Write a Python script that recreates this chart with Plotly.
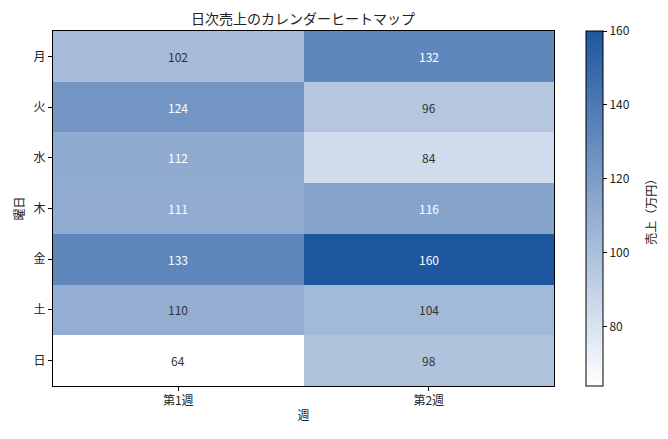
import plotly.graph_objects as go

weeks = ["第1週", "第2週"]
days = ["月", "火", "水", "木", "金", "土", "日"]
week1 = [102, 124, 112, 111, 133, 110, 64]
week2 = [132, 96, 84, 116, 160, 104, 98]

z = [[a, b] for a, b in zip(week1, week2)]
zmin, zmax = 64, 160
font = "Noto Sans CJK JP"

fig = go.Figure(go.Heatmap(
    z=z, x=weeks, y=days,
    zmin=zmin, zmax=zmax,
    colorscale=[[0, "#ffffff"], [1, "#1f56a0"]],
    xgap=0, ygap=0,
    hovertemplate="%{y} %{x}: %{z}<extra></extra>",
    colorbar=dict(
        thickness=17, len=1, lenmode="fraction", y=0.5, yanchor="middle",
        x=1.064, xanchor="left", xpad=0, ypad=0,
        outlinecolor="black", outlinewidth=1,
        ticks="outside", ticklen=4, tickcolor="black",
        tickvals=[80, 100, 120, 140, 160],
        tickfont=dict(size=12, color="#222222"),
    ),
))

# cell labels: light text on dark cells
for i, d in enumerate(days):
    for j, w in enumerate(weeks):
        v = z[i][j]
        fig.add_annotation(
            x=w, y=d, text=str(v), showarrow=False,
            font=dict(size=12, family=font, color="white" if v > 110.5 else "#333333"),
        )

# colorbar label, placed by hand further out like the reference
fig.add_annotation(
    text="売上（万円）", textangle=-90, showarrow=False,
    xref="paper", yref="paper", x=1.192, y=0.5, xanchor="center", yanchor="middle",
    font=dict(size=12, family=font, color="#222222"),
)

# page body has an 8px margin, so the figure is a bit smaller than the window
fig.update_layout(
    width=660, height=431,
    margin=dict(l=45, r=114, t=23, b=53, autoexpand=False),
    plot_bgcolor="white", paper_bgcolor="white",
    font=dict(family=font, color="#222222"),
    title=dict(text="日次売上のカレンダーヒートマップ", x=0.447, xanchor="center",
               y=0.974, yanchor="middle", font=dict(size=14)),
)
fig.update_xaxes(
    title=dict(text="週", font=dict(size=12), standoff=4),
    ticks="outside", ticklen=4, tickcolor="black",
    showline=True, linecolor="black", mirror=True, tickfont=dict(size=12),
)
fig.update_yaxes(
    title=dict(text="曜日", font=dict(size=12), standoff=6),
    autorange="reversed",
    ticks="outside", ticklen=4, tickcolor="black",
    showline=True, linecolor="black", mirror=True, tickfont=dict(size=12),
)

fig.write_html("out.html")
